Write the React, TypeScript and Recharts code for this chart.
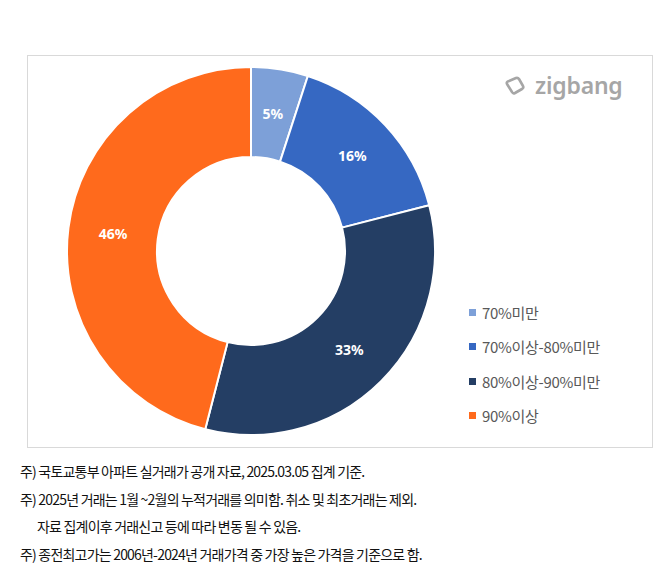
import React from 'react';
import { PieChart, Pie, Cell, Legend } from 'recharts';

// share of transactions by price level vs. previous peak (%)
const categories = ['70%미만', '70%이상-80%미만', '80%이상-90%미만', '90%이상'];
const shares = [5, 16, 33, 46];
const colors = ['#7DA0D8', '#3668C2', '#243E64', '#FF6A1C'];

const notes = [
  '주) 국토교통부 아파트 실거래가 공개 자료, 2025.03.05 집계 기준.',
  '주) 2025년 거래는 1월 ~2월의 누적거래를 의미함. 취소 및 최초거래는 제외.',
  '자료 집계이후 거래신고 등에 따라 변동 될 수 있음.',
  '주) 종전최고가는 2006년-2024년 거래가격 중 가장 높은 가격을 기준으로 함.'
];

const data = categories.map((name, i) => ({ name, value: shares[i] }));

const RADIAN = Math.PI / 180;

// label at the middle of the ring
const renderLabel = (props: any) => {
  const { cx, cy, midAngle, innerRadius, outerRadius, value } = props;
  const r = (innerRadius + outerRadius) / 2;
  const x = cx + r * Math.cos(-midAngle * RADIAN);
  const y = cy + r * Math.sin(-midAngle * RADIAN);
  return (
    <text
      x={x}
      y={y}
      fill="#fff"
      textAnchor="middle"
      dominantBaseline="central"
      fontSize={14}
      fontWeight={700}
      fontFamily="'Noto Sans', sans-serif"
    >
      {value}%
    </text>
  );
};

const LegendContent = ({ payload }: any) => (
  <div style={{ display: 'flex', flexDirection: 'column', gap: 14.5 }}>
    {(payload || []).map((p: any, i: number) => (
      <div key={i} style={{ display: 'flex', alignItems: 'center', height: 20 }}>
        <span
          style={{
            width: 7,
            height: 7,
            background: p.color,
            display: 'inline-block',
            marginRight: 6
          }}
        />
        <span
          style={{
            fontSize: 15,
            color: '#595959',
            letterSpacing: -0.3,
            fontFamily: "'Noto Sans CJK KR', sans-serif"
          }}
        >
          {p.value}
        </span>
      </div>
    ))}
  </div>
);

const App: React.FC = () => {
  return (
    <div
      style={{
        position: 'relative',
        width: 670,
        height: 581,
        margin: -8,
        background: '#fff',
        fontFamily: "'Noto Sans CJK KR', sans-serif"
      }}
    >
      <div
        style={{
          position: 'absolute',
          left: 27,
          top: 55,
          width: 626,
          height: 393,
          border: '1px solid #D9D9D9',
          boxSizing: 'border-box'
        }}
      >
        <PieChart width={624} height={391} margin={{ top: 0, right: 0, bottom: 0, left: 0 }}>
          <Pie
            data={data}
            dataKey="value"
            nameKey="name"
            cx={223}
            cy={195}
            innerRadius={94}
            outerRadius={184}
            startAngle={90}
            endAngle={-270}
            stroke="#fff"
            strokeWidth={2}
            label={renderLabel}
            labelLine={false}
            isAnimationActive={false}
          >
            {data.map((d, i) => (
              <Cell key={d.name} fill={colors[i]} />
            ))}
          </Pie>
          <Legend
            layout="vertical"
            content={<LegendContent />}
            wrapperStyle={{ left: 441, top: 246, width: 180 }}
          />
        </PieChart>

        {/* zigbang logo */}
        <div
          style={{
            position: 'absolute',
            left: 476,
            top: 18,
            display: 'flex',
            alignItems: 'center',
            color: '#A6A6A6'
          }}
        >
          <svg width={22} height={22} viewBox="0 0 22 22" style={{ marginRight: 9 }}>
            <path
              d="M5 6 L12 3 Q14 2.5 15 4 L19 11 Q20 13 18 14 L11 18 Q9 19 8 17 L3 9 Q2 7 5 6 Z"
              fill="none"
              stroke="#A6A6A6"
              strokeWidth={2.6}
              strokeLinejoin="round"
            />
          </svg>
          <span
            style={{
              fontSize: 23,
              fontWeight: 600,
              fontFamily: "'Noto Sans', sans-serif",
              letterSpacing: -0.2,
              lineHeight: 1
            }}
          >
            zigbang
          </span>
        </div>
      </div>

      {notes.map((t, i) => (
        <div
          key={i}
          style={{
            position: 'absolute',
            left: i === 2 ? 37 : 20,
            top: 461 + i * 27.7,
            fontSize: 14,
            letterSpacing: -0.8,
            color: '#111',
            whiteSpace: 'nowrap',
            lineHeight: '20px'
          }}
        >
          {t}
        </div>
      ))}
    </div>
  );
};

export default App;
